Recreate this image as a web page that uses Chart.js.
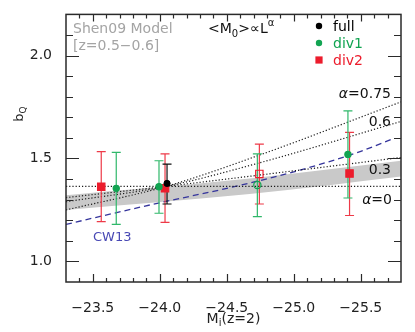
<!DOCTYPE html>
<html><head><meta charset="utf-8">
<script src="https://cdn.jsdelivr.net/npm/chart.js@4/dist/chart.umd.min.js"></script>
<style>html,body{margin:0;padding:0;background:#fff}#wrap{width:415px;height:332px}</style>
</head><body><div id="wrap"><canvas id="c" width="415" height="332"></canvas></div>
<script>
// ---- data ----
const xMajorTicks = [-23.5, -24.0, -24.5, -25.0, -25.5];
const yMajorTicks = [1.0, 1.5, 2.0];

const modelX   = [-23.3, -24.05, -24.75, -25.8];
const alpha0   = [1.365, 1.365, 1.365, 1.365];
const alpha03  = [1.31, 1.365, 1.42, 1.505];
const alpha06  = [1.29, 1.365, 1.48, 1.68];
const alpha075 = [1.25, 1.365, 1.518, 1.775];

const bandX      = [-23.3, -24.67, -25.8];
const bandTop    = [1.322, 1.403, 1.489];
const bandBottom = [1.25, 1.327, 1.413];

const cw13X = [-23.3, -24.0, -24.5, -25.0, -25.5, -25.735];
const cw13Y = [1.18, 1.285, 1.355, 1.435, 1.535, 1.595];

const fullX = [-24.054], fullY = [1.379], fullLo = [1.279], fullHi = [1.473];
const div1X = [-23.675, -23.994, -24.728, -25.404];
const div1Y = [1.355, 1.363, 1.371, 1.52];
const div1Lo = [1.18, 1.234, 1.218, 1.308];
const div1Hi = [1.53, 1.489, 1.522, 1.731];
const div1Open = [false, false, true, false];
const div2X = [-23.563, -24.039, -24.743, -25.416];
const div2Y = [1.363, 1.355, 1.425, 1.427];
const div2Lo = [1.193, 1.19, 1.279, 1.223];
const div2Hi = [1.533, 1.522, 1.57, 1.627];
const div2Open = [false, false, true, false];

// ---- styles ----
const FONT = "'DejaVu Sans', sans-serif";
const GREEN = '#12a452', GREEN_BAR = '#2fb86a';
const RED = '#ec1c2c', RED_BAR = '#ee3a48';
const BLUE = '#35359c', BLUE_TXT = '#4848b4';
const GRAY_TXT = '#a4a4a4', BAND = '#c9c9c9';

const pts = (xs, ys) => xs.map((x, i) => ({x: x, y: ys[i]}));
const lineDs = (xs, ys, extra) => Object.assign({
  data: pts(xs, ys), borderColor: '#1a1a1a', borderWidth: 1.2, borderDash: [1.2, 2],
  pointRadius: 0, fill: false, cubicInterpolationMode: 'monotone', order: 5
}, extra);

const datasets = [
  {label: 'bandTop', data: pts(bandX, bandTop), borderWidth: 0, borderColor: 'rgba(0,0,0,0)',
   pointRadius: 0, fill: false, order: 10, cubicInterpolationMode: 'monotone'},
  {label: 'bandBottom', data: pts(bandX, bandBottom), borderWidth: 0, borderColor: 'rgba(0,0,0,0)',
   backgroundColor: BAND, pointRadius: 0, fill: '-1', order: 9, cubicInterpolationMode: 'monotone'},
  lineDs(modelX, alpha0, {label: 'a0', cubicInterpolationMode: 'default', tension: 0}),
  lineDs(modelX, alpha03, {label: 'a03'}),
  lineDs(modelX, alpha06, {label: 'a06'}),
  lineDs(modelX, alpha075, {label: 'a075'}),
  lineDs(cw13X, cw13Y, {label: 'CW13', borderColor: BLUE, borderDash: [6, 4], borderWidth: 1.3}),
  {label: 'div2', type: 'scatter', data: pts(div2X, div2Y), showLine: false, isMarker: true,
   pointStyle: 'rect', pointRadius: 5.2, borderWidth: 1.2,
   pointBorderColor: RED, pointBackgroundColor: div2Open.map(o => o ? 'rgba(0,0,0,0)' : RED), order: 2},
  {label: 'div1', type: 'scatter', data: pts(div1X, div1Y), showLine: false, isMarker: true,
   pointStyle: 'circle', pointRadius: div1Open.map(o => o ? 3.6 : 3.1), borderWidth: 1.2,
   pointBorderColor: GREEN, pointBackgroundColor: div1Open.map(o => o ? 'rgba(0,0,0,0)' : GREEN), order: 1},
  {label: 'full', type: 'scatter', data: pts(fullX, fullY), showLine: false, isMarker: true,
   pointStyle: 'circle', pointRadius: 3.1, borderWidth: 1,
   pointBorderColor: '#000', pointBackgroundColor: '#000', order: 0}
];

const errSets = [
  {x: div2X, lo: div2Lo, hi: div2Hi, color: RED_BAR},
  {x: div1X, lo: div1Lo, hi: div1Hi, color: GREEN_BAR},
  {x: fullX, lo: fullLo, hi: fullHi, color: '#111'}
];

let errDrawn = false;
const errPlugin = {
  id: 'err',
  beforeDatasetsDraw() { errDrawn = false; },
  beforeDatasetDraw(chart, args) {
    const ds = chart.data.datasets[args.index];
    if (!ds.isMarker || errDrawn) return;
    errDrawn = true;
    const c = chart.ctx, xs = chart.scales.x, ys = chart.scales.y;
    c.save();
    errSets.forEach(s => {
      c.strokeStyle = s.color; c.lineWidth = 1.2;
      s.x.forEach((xv, i) => {
        const px = xs.getPixelForValue(xv);
        const p1 = ys.getPixelForValue(s.lo[i]), p2 = ys.getPixelForValue(s.hi[i]);
        c.beginPath();
        c.moveTo(px, p1); c.lineTo(px, p2);
        c.moveTo(px - 4.5, p1); c.lineTo(px + 4.5, p1);
        c.moveTo(px - 4.5, p2); c.lineTo(px + 4.5, p2);
        c.stroke();
      });
    });
    c.restore();
  }
};

function rich(c, parts, x, y, align) {
  // parts: [text, size, dy, italic]
  let w = 0;
  parts.forEach(p => { c.font = (p[3] ? 'italic ' : '') + p[1] + 'px ' + FONT; w += c.measureText(p[0]).width; });
  let cx = align === 'right' ? x - w : (align === 'center' ? x - w / 2 : x);
  c.textAlign = 'left'; c.textBaseline = 'alphabetic';
  parts.forEach(p => {
    c.font = (p[3] ? 'italic ' : '') + p[1] + 'px ' + FONT;
    c.fillText(p[0], cx, y + p[2]);
    cx += c.measureText(p[0]).width;
  });
}

const decoPlugin = {
  id: 'deco',
  afterDraw(chart) {
    const c = chart.ctx, a = chart.chartArea, xs = chart.scales.x, ys = chart.scales.y;
    c.save();
    // frame
    c.strokeStyle = '#2a2a2a'; c.lineWidth = 1.5;
    c.strokeRect(a.left, a.top, a.right - a.left, a.bottom - a.top);
    c.lineWidth = 1.2;
    c.beginPath();
    // x ticks (bottom & top)
    for (let k = 0; k <= 25; k++) {
      const v = -23.3 - k * 0.1;
      if (k === 0 || k === 25) continue;
      const major = xMajorTicks.some(m => Math.abs(m - v) < 1e-6);
      const px = Math.round(xs.getPixelForValue(v)) + 0.5;
      const L = major ? 8 : 4;
      c.moveTo(px, a.bottom); c.lineTo(px, a.bottom - L);
      c.moveTo(px, a.top); c.lineTo(px, a.top + (major ? 7 : 4));
    }
    // y ticks (left & right)
    for (let k = 1; k < 13; k++) {
      const v = 0.9 + k * 0.1;
      const major = yMajorTicks.some(m => Math.abs(m - v) < 1e-6);
      const py = Math.round(ys.getPixelForValue(v)) + 0.5;
      const L = major ? 13 : 7;
      c.moveTo(a.left, py); c.lineTo(a.left + L, py);
      c.moveTo(a.right, py); c.lineTo(a.right - L, py);
    }
    c.stroke();

    // axis titles
    c.fillStyle = '#222';
    rich(c, [['M', 14, 0], ['i', 10, 3], ['(z=2)', 14, 0]], (a.left + a.right) / 2, 323, 'center');
    c.save();
    c.translate(23, 114); c.rotate(-Math.PI / 2);
    rich(c, [['b', 13, 0], ['Q', 9, 3]], 0, 0, 'center');
    c.restore();

    // model annotation
    c.fillStyle = GRAY_TXT;
    rich(c, [['Shen09 Model', 14, 0]], a.left + 7, 33, 'left');
    rich(c, [['[z=0.5\u22120.6]', 14, 0]], a.left + 7, 50, 'left');
    c.fillStyle = '#111';
    rich(c, [['<M', 14, 0], ['0', 10, 4], ['>\u221dL', 14, 0], ['\u03b1', 10, -7]], 208, 33, 'left');

    // legend
    const lx = 319;
    c.fillStyle = '#000'; c.beginPath(); c.arc(lx, 26, 3.2, 0, 2 * Math.PI); c.fill();
    rich(c, [['full', 14, 0]], 333, 31, 'left');
    c.fillStyle = GREEN; c.beginPath(); c.arc(lx, 43, 3.2, 0, 2 * Math.PI); c.fill();
    rich(c, [['div1', 14, 0]], 333, 48, 'left');
    c.fillStyle = RED; c.fillRect(lx - 3.6, 56.4, 7.2, 7.2);
    rich(c, [['div2', 14, 0]], 333, 65, 'left');

    // alpha labels
    c.fillStyle = '#111';
    rich(c, [['\u03b1', 14, 0, true], ['=0.75', 14, 0]], 391, 98, 'right');
    rich(c, [['0.6', 14, 0]], 391, 126, 'right');
    rich(c, [['0.3', 14, 0]], 391, 174, 'right');
    rich(c, [['\u03b1', 14, 0, true], ['=0', 14, 0]], 392, 204, 'right');

    c.fillStyle = BLUE_TXT;
    rich(c, [['CW13', 13, 0]], 93, 241, 'left');
    c.restore();
  }
};

const fmt = v => (v < 0 ? '\u2212' : '') + Math.abs(v).toFixed(1);

new Chart(document.getElementById('c'), {
  type: 'line',
  data: {datasets: datasets},
  options: {
    responsive: false, animation: false, devicePixelRatio: 1,
    layout: {padding: {top: 11, right: 14, left: 0, bottom: 0}},
    plugins: {legend: {display: false}, tooltip: {enabled: false}},
    elements: {line: {tension: 0}},
    scales: {
      x: {
        type: 'linear', reverse: true, min: -25.8, max: -23.3,
        grid: {display: false}, border: {display: false},
        afterBuildTicks: s => { s.ticks = xMajorTicks.map(v => ({value: v})); },
        ticks: {callback: v => fmt(v), font: {family: FONT, size: 14}, color: '#222', padding: 10,
                maxRotation: 0, autoSkip: false},
        afterFit: s => { s.height = 50; }
      },
      y: {
        type: 'linear', min: 0.9, max: 2.2,
        grid: {display: false}, border: {display: false},
        afterBuildTicks: s => { s.ticks = yMajorTicks.map(v => ({value: v})); },
        ticks: {callback: v => v.toFixed(1), font: {family: FONT, size: 14}, color: '#222', padding: 6},
        afterFit: s => { s.width = 66; }
      }
    }
  },
  plugins: [errPlugin, decoPlugin]
});
</script>
</body></html>
